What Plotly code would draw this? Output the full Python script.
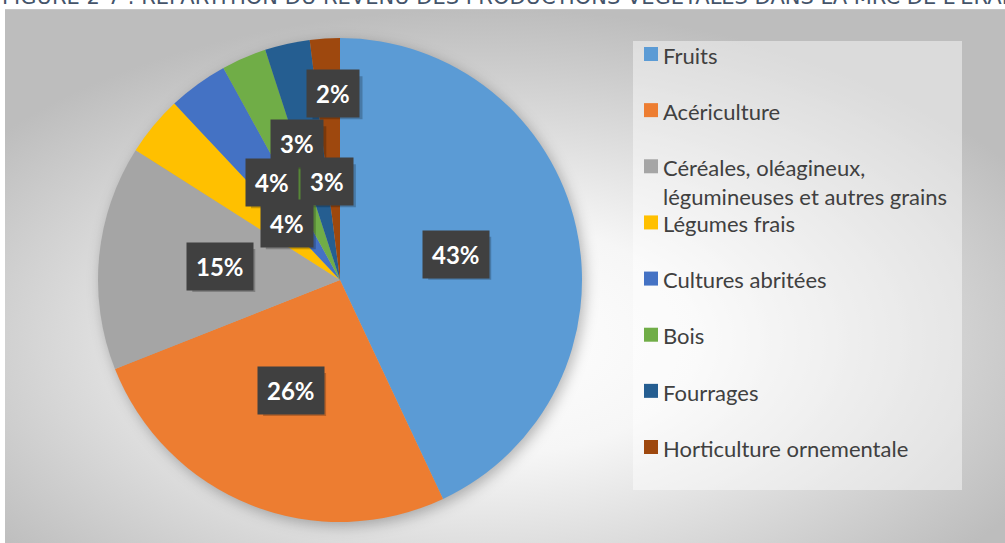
import base64
import math
import plotly.graph_objects as go

# ---- data ----
categories = [
    "Fruits",
    "Acériculture",
    "Céréales, oléagineux,<br>légumineuses et autres grains",
    "Légumes frais",
    "Cultures abritées",
    "Bois",
    "Fourrages",
    "Horticulture ornementale",
]
values = [43, 26, 15, 4, 4, 3, 3, 2]
colors = ["#5B9BD5", "#ED7D31", "#A5A5A5", "#FFC000", "#4472C4", "#70AD47", "#255E91", "#9E480E"]
title_text = "FIGURE 2-7 : RÉPARTITION DU REVENU DES PRODUCTIONS VÉGÉTALES DANS LA MRC DE L'ÉRABLE"

# ---- layout constants ----
W, H = 1005, 543
CX, CY, R = 340, 280, 242  # pie centre / radius in px
# label placement: (radius fraction, angle shift in degrees)
label_pos = [(0.49, 0), (0.5, 2.5), (0.5, 1), (0.32, 7), (0.49, 1), (0.59, 6), (0.41, 5), (0.77, 1.6)]

fig = go.Figure()
fig.add_trace(go.Pie(
    labels=categories, values=values, sort=False, direction="clockwise", rotation=0,
    marker=dict(colors=colors, line=dict(width=0)),
    textinfo="none", hoverinfo="label+percent", showlegend=False,
    domain=dict(x=[(CX - R) / W, (CX + R) / W], y=[(H - CY - R) / H, (H - CY + R) / H]),
))

# background (radial gradient + pie shadow) as an SVG image
svg = f'''<svg xmlns="http://www.w3.org/2000/svg" width="{W}" height="{H}" viewBox="0 0 {W} {H}">
<defs>
<radialGradient id="g" cx="48%" cy="62%" r="62%">
<stop offset="0" stop-color="#ffffff"/>
<stop offset="0.35" stop-color="#f6f6f6"/>
<stop offset="1" stop-color="#bdbdbd"/>
</radialGradient>
<filter id="b" x="-20%" y="-20%" width="140%" height="140%"><feGaussianBlur stdDeviation="7"/></filter>
</defs>
<rect x="0" y="0" width="{W}" height="{H}" fill="#ffffff"/>
<rect x="5" y="9" width="{W-5}" height="{H-9}" fill="url(#g)"/>
<line x1="5" y1="9.5" x2="{W}" y2="9.5" stroke="#c8c8c8" stroke-width="1"/>
<circle cx="{CX+3}" cy="{CY+4}" r="{R}" fill="rgba(0,0,0,0.28)" filter="url(#b)"/>
</svg>'''
uri = "data:image/svg+xml;base64," + base64.b64encode(svg.encode("utf-8")).decode()
fig.add_layout_image(dict(source=uri, xref="paper", yref="paper", x=0, y=1, sizex=1, sizey=1,
                          xanchor="left", yanchor="top", sizing="stretch", layer="below"))

shapes = []
annotations = []

# legend panel
LX0, LX1, LY0, LY1 = 633, 962, 41, 490
shapes.append(dict(type="rect", xref="paper", yref="paper",
                   x0=LX0 / W, x1=LX1 / W, y0=1 - LY1 / H, y1=1 - LY0 / H,
                   fillcolor="rgba(255,255,255,0.45)", line=dict(width=0), layer="below"))
step = (447 - 54) / 7
FS = 22
for i, (cat, col) in enumerate(zip(categories, colors)):
    yc = 54 + i * step
    shapes.append(dict(type="rect", xref="paper", yref="paper",
                       x0=644 / W, x1=658 / W, y0=1 - (yc + 7) / H, y1=1 - (yc - 7) / H,
                       fillcolor=col, line=dict(width=0)))
    annotations.append(dict(xref="paper", yref="paper", x=661 / W, y=1 - (yc - FS * 0.65) / H,
                            xanchor="left", yanchor="top", align="left", showarrow=False,
                            text=cat, font=dict(family="Lato", size=FS, color="#404040")))

# data labels
total = sum(values)
cum = 0
for v, (rf, dth) in zip(values, label_pos):
    mid = (cum + v / 2) / total * 360 + dth
    cum += v
    th = math.radians(mid)
    px = CX + rf * R * math.sin(th)
    py = CY - rf * R * math.cos(th)
    pct = f"{round(v / total * 100)}%"
    # soft shadow of the label box (approximate box size from text length)
    bw = 24 + 13 * len(pct)
    bh = 43
    sx, sy = px + 4, py + 4
    shapes.append(dict(type="rect", xref="paper", yref="paper", layer="above",
                       x0=(sx - bw / 2) / W, x1=(sx + bw / 2) / W,
                       y0=1 - (sy + bh / 2) / H, y1=1 - (sy - bh / 2) / H,
                       fillcolor="rgba(0,0,0,0.22)", line=dict(width=0)))
    annotations.append(dict(xref="paper", yref="paper", x=px / W, y=1 - py / H,
                            xanchor="center", yanchor="middle",
                            showarrow=False, text=f"<b>{pct}</b>", bgcolor="#404040",
                            borderpad=9, font=dict(family="Lato", size=24, color="#ffffff")))

# clipped title at the very top
annotations.append(dict(xref="paper", yref="paper", x=0, y=1 + 3 / H, xanchor="left", yanchor="middle",
                        showarrow=False, text=title_text,
                        font=dict(family="DejaVu Sans", size=21, color="#44546A")))

fig.update_layout(
    width=W, height=H, margin=dict(l=0, r=0, t=0, b=0),
    paper_bgcolor="#ffffff", plot_bgcolor="rgba(0,0,0,0)",
    shapes=shapes, annotations=annotations, showlegend=False,
)
fig.write_html("out.html", config={"displayModeBar": False},
               post_script="document.body.style.margin='0';")
